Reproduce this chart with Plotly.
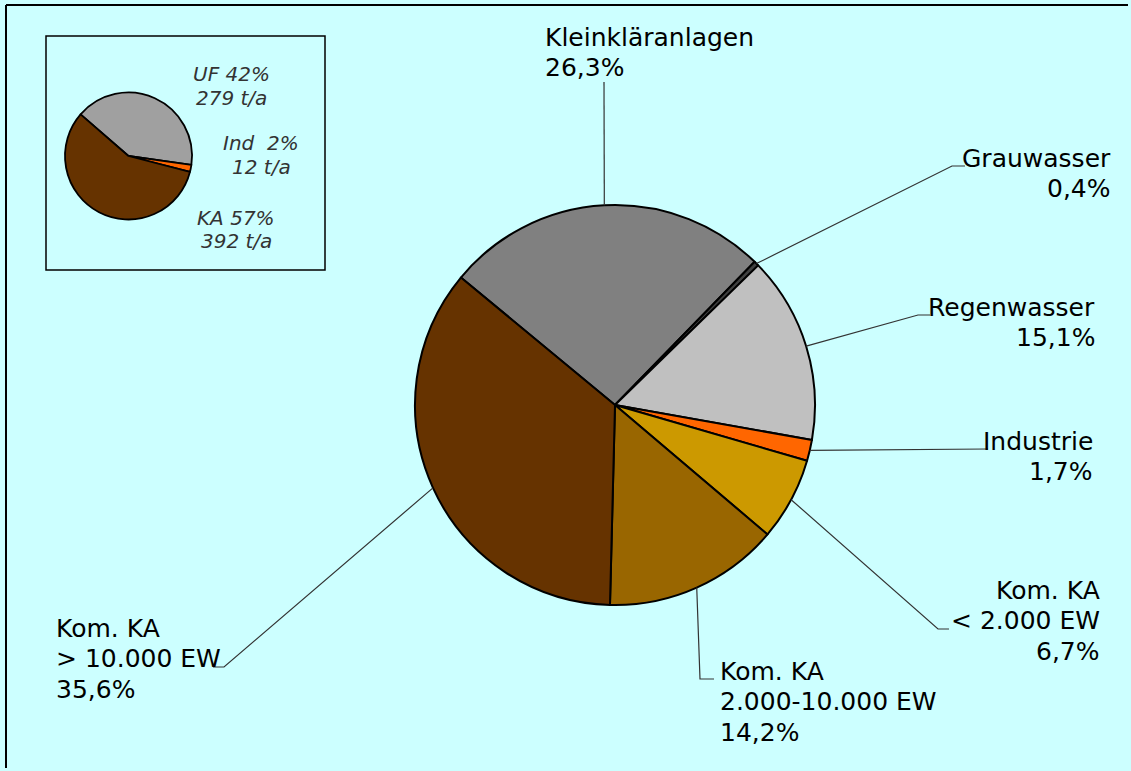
import math
import plotly.graph_objects as go

# ---------------- data ----------------
main_labels = ["Kleinkläranlagen", "Grauwasser", "Regenwasser", "Industrie",
               "Kom. KA<br>&lt; 2.000 EW", "Kom. KA<br>2.000-10.000 EW", "Kom. KA<br>&gt; 10.000 EW"]
main_values = [26.3, 0.4, 15.1, 1.7, 6.7, 14.2, 35.6]
main_pct_text = ["26,3%", "0,4%", "15,1%", "1,7%", "6,7%", "14,2%", "35,6%"]
main_colors = ["#808080", "#404040", "#C0C0C0", "#FF6600", "#CC9900", "#996600", "#663300"]

inset_labels = ["UF", "Ind", "KA"]
inset_pct = ["42%", "2%", "57%"]
inset_tons = [279, 12, 392]
inset_colors = ["#A0A0A0", "#FF6600", "#663300"]

# ---------------- layout geometry (pixels) ----------------
W, H = 1131, 771
BG = "#CCFFFF"
FS = 25
LS = 30.5
FONT = "DejaVu Sans"

cx, cy, R = 615, 405, 200
ROT = -50.4
icx, icy, IR = 128.5, 156, 63.5
IROT = -49

# label blocks: (x, first-baseline, anchor)
label_pos = [(543, 45.7, "left"), (1113, 166.7, "right"), (1097, 316, "right"),
             (1095, 450, "right"), (1102, 599, "right"), (718, 680, "left"), (54, 637, "left")]
# leader elbows / ends
leader_elbow = [(604, 82), (952, 166), (918, 315), (988, 449), (938, 629), (700, 679), (224, 667)]
leader_end = [(604, 82), (965, 166), (930, 315), (988, 449), (949, 629), (714, 679), (213, 667)]

# inset text blocks: (center x, first baseline)
inset_text_pos = [(231, 80.7), (261, 150), (236, 224.3)]
IFS = 20
ILS = 23.5


def px(x):
    return x / W


def py(y):
    return 1 - y / H


fig = go.Figure()

fig.add_trace(go.Pie(
    labels=[l.replace("<br>", " ") for l in main_labels], values=main_values,
    sort=False, direction="clockwise", rotation=ROT,
    marker=dict(colors=main_colors, line=dict(color="black", width=2)),
    textinfo="none", hoverinfo="label+percent", showlegend=False,
    domain=dict(x=[px(cx - R), px(cx + R)], y=[py(cy + R), py(cy - R)]),
))

fig.add_trace(go.Pie(
    labels=inset_labels, values=inset_tons,
    sort=False, direction="clockwise", rotation=IROT,
    marker=dict(colors=inset_colors, line=dict(color="black", width=1.8)),
    textinfo="none", hoverinfo="label+value", showlegend=False,
    domain=dict(x=[px(icx - IR), px(icx + IR)], y=[py(icy + IR), py(icy - IR)]),
))

shapes = []
annotations = []

# outer frame: top and left edges
shapes.append(dict(type="line", xref="paper", yref="paper", x0=px(6), y0=py(5), x1=px(W - 3), y1=py(5),
                   line=dict(color="black", width=2)))
shapes.append(dict(type="line", xref="paper", yref="paper", x0=px(6), y0=py(5), x1=px(6), y1=py(H - 3),
                   line=dict(color="black", width=2)))

# inset box
shapes.append(dict(type="rect", xref="paper", yref="paper", x0=px(46), y0=py(36), x1=px(325), y1=py(270),
                   line=dict(color="black", width=1.5), fillcolor="rgba(0,0,0,0)", layer="below"))


def add_lines(lines, x, baseline, anchor, size, spacing, color, italic=False):
    for k, t in enumerate(lines):
        b = baseline + k * spacing
        top = b - 0.928 * size - 2
        txt = f"<i>{t}</i>" if italic else t
        annotations.append(dict(
            text=txt, xref="paper", yref="paper", x=px(x), y=py(top),
            xanchor=anchor, yanchor="top", align=anchor, showarrow=False,
            font=dict(family=FONT, size=size, color=color),
        ))


# leader lines from slice mid angles
total = sum(main_values)
cum = 0
for i, v in enumerate(main_values):
    ang = math.radians(ROT + (cum + v / 2) / total * 360)
    cum += v
    sx = cx + R * math.sin(ang)
    sy = cy - R * math.cos(ang)
    ex, ey = leader_elbow[i]
    tx, ty = leader_end[i]
    pts = [(sx, sy), (ex, ey)]
    if (tx, ty) != (ex, ey):
        pts.append((tx, ty))
    path = "M " + " L ".join(f"{px(a):.6f},{py(b):.6f}" for a, b in pts)
    shapes.append(dict(type="path", xref="paper", yref="paper", path=path,
                       line=dict(color="#333333", width=1.2)))

    lx, lb, anc = label_pos[i]
    lines = main_labels[i].split("<br>") + [main_pct_text[i]]
    add_lines(lines, lx, lb, anc, FS, LS, "black")

for i, lab in enumerate(inset_labels):
    tx, tb = inset_text_pos[i]
    gap = "\u00a0 " if lab == "Ind" else " "
    add_lines([f"{lab}{gap}{inset_pct[i]}", f"{inset_tons[i]} t/a"], tx, tb, "center",
              IFS, ILS, "#333333", italic=True)

fig.update_layout(
    width=W, height=H, autosize=False,
    margin=dict(l=0, r=0, t=0, b=0, pad=0),
    paper_bgcolor=BG, plot_bgcolor=BG,
    shapes=shapes, annotations=annotations,
    showlegend=False,
)

fig.write_html(
    "out.html",
    config={"displayModeBar": False},
    post_script=("document.body.style.margin='0';document.body.style.overflow='hidden';"
                 "document.documentElement.style.overflow='hidden';"
                 "document.body.style.background='#CCFFFF';"),
)
